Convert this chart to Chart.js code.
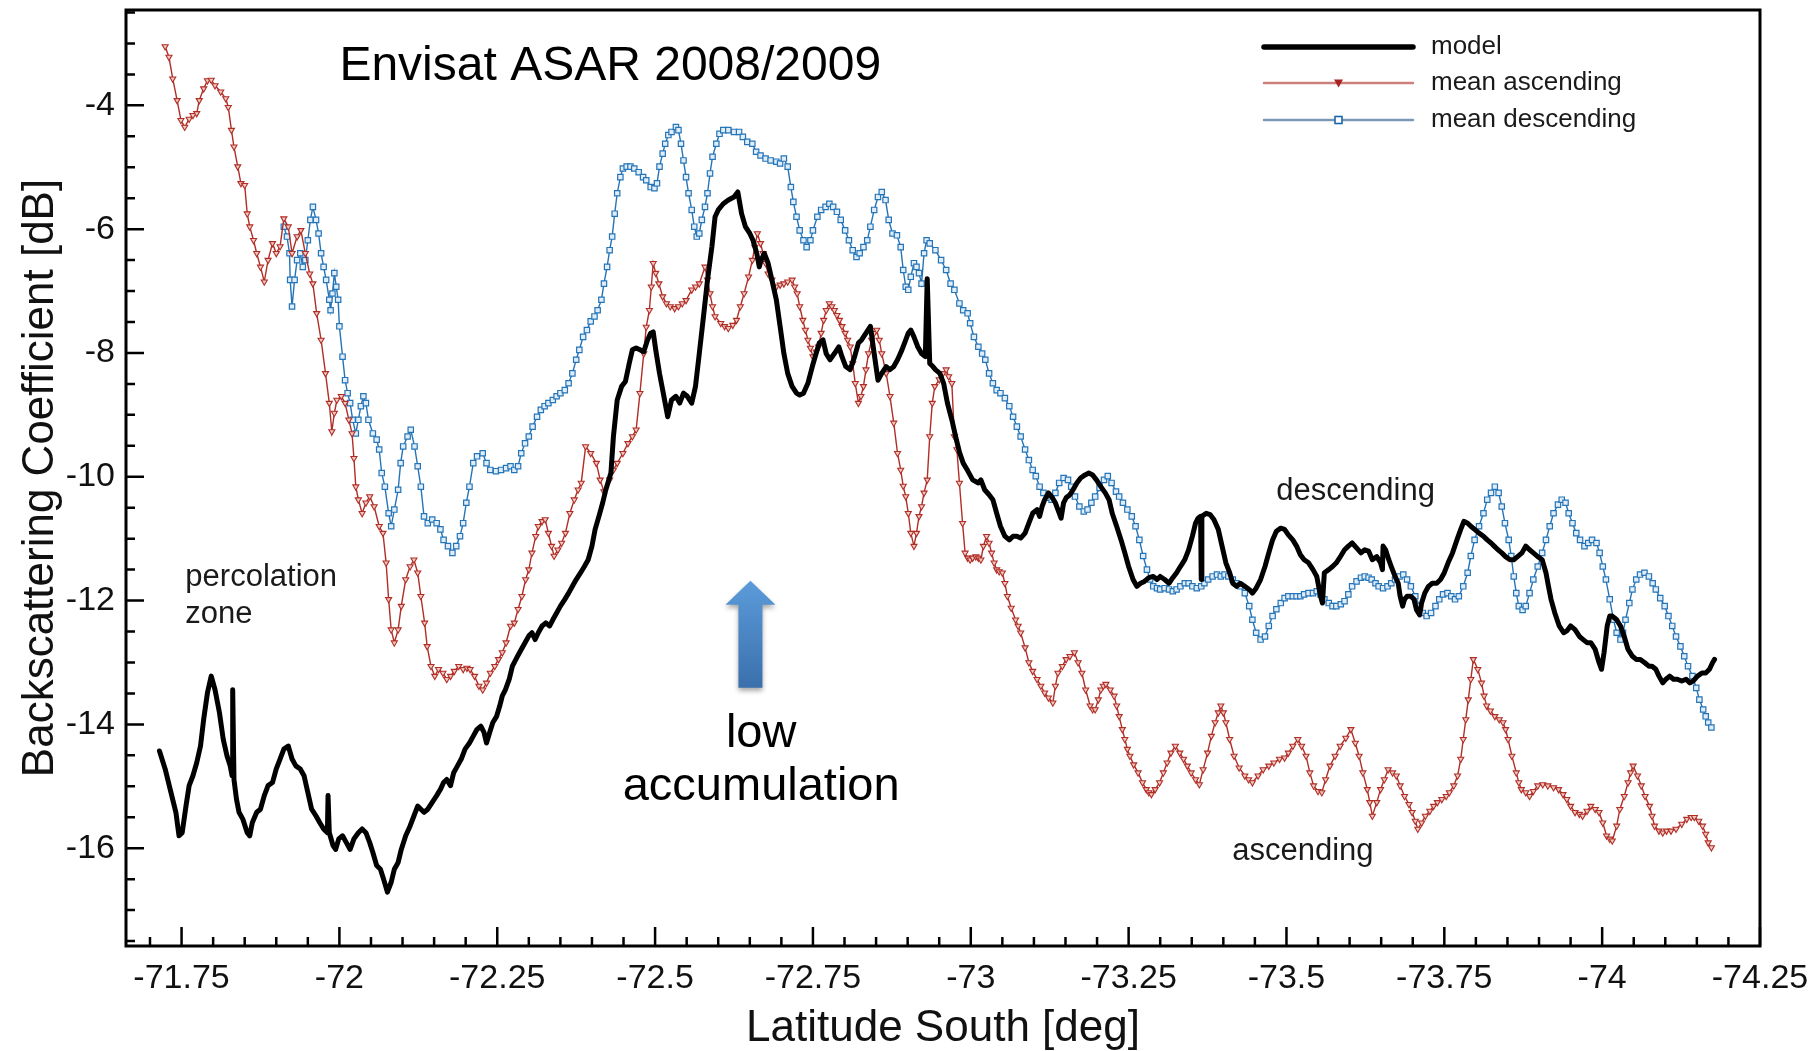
<!DOCTYPE html>
<html>
<head>
<meta charset="utf-8">
<title>Envisat ASAR backscatter profile</title>
<script src="https://cdn.jsdelivr.net/npm/chart.js@4.4.1/dist/chart.umd.min.js"></script>
<style>
  html, body { margin: 0; padding: 0; background: #fff; }
  #wrap { width: 1812px; height: 1051px; }
</style>
</head>
<body>
<div id="wrap"><canvas id="profile" width="1812" height="1051"></canvas></div>
<script>
// axis ticks
const latTicks = [-71.75, -72, -72.25, -72.5, -72.75, -73, -73.25, -73.5, -73.75, -74, -74.25];
const dbTicks = [-16, -14, -12, -10, -8, -6, -4];

// model backscatter along the traverse
const modelLat = [
  -71.715, -71.724, -71.732, -71.741, -71.746, -71.751, -71.757, -71.762, -71.768, -71.774,
  -71.780, -71.785, -71.791, -71.797, -71.803, -71.810, -71.816, -71.822, -71.827, -71.830,
  -71.831, -71.833, -71.837, -71.841, -71.847, -71.854, -71.858, -71.862, -71.869, -71.875,
  -71.881, -71.887, -71.894, -71.900, -71.906, -71.912, -71.919, -71.925, -71.931, -71.938,
  -71.944, -71.950, -71.956, -71.963, -71.969, -71.975, -71.981, -71.982, -71.984, -71.990,
  -71.994, -71.999, -72.005, -72.011, -72.017, -72.023, -72.030, -72.036, -72.042, -72.048,
  -72.053, -72.059, -72.065, -72.070, -72.076, -72.082, -72.087, -72.093, -72.098, -72.105,
  -72.112, -72.118, -72.124, -72.129, -72.134, -72.140, -72.147, -72.154, -72.160, -72.165,
  -72.170, -72.176, -72.181, -72.187, -72.193, -72.199, -72.206, -72.212, -72.218, -72.224,
  -72.229, -72.233, -72.238, -72.243, -72.249, -72.254, -72.258, -72.263, -72.269, -72.274,
  -72.281, -72.288, -72.294, -72.300, -72.305, -72.310, -72.315, -72.321, -72.327, -72.333,
  -72.338, -72.344, -72.350, -72.357, -72.363, -72.369, -72.375, -72.382, -72.388, -72.394,
  -72.400, -72.405, -72.411, -72.417, -72.422, -72.430, -72.434, -72.440, -72.447, -72.453,
  -72.459, -72.464, -72.470, -72.476, -72.482, -72.488, -72.493, -72.497, -72.501, -72.507,
  -72.513, -72.520, -72.526, -72.533, -72.539, -72.545, -72.551, -72.558, -72.564, -72.570,
  -72.576, -72.583, -72.590, -72.595, -72.600, -72.608, -72.616, -72.625, -72.631, -72.637,
  -72.643, -72.650, -72.655, -72.661, -72.665, -72.668, -72.673, -72.679, -72.685, -72.692,
  -72.698, -72.704, -72.710, -72.717, -72.724, -72.729, -72.735, -72.742, -72.749, -72.755,
  -72.760, -72.766, -72.771, -72.777, -72.784, -72.791, -72.796, -72.802, -72.809, -72.816,
  -72.822, -72.827, -72.834, -72.841, -72.847, -72.853, -72.859, -72.866, -72.872, -72.878,
  -72.884, -72.891, -72.897, -72.901, -72.905, -72.910, -72.916, -72.922, -72.928, -72.931,
  -72.935, -72.940, -72.944, -72.951, -72.957, -72.963, -72.970, -72.976, -72.982, -72.988,
  -72.995, -73.003, -73.012, -73.016, -73.022, -73.029, -73.035, -73.041, -73.047, -73.054,
  -73.061, -73.067, -73.073, -73.079, -73.086, -73.092, -73.098, -73.105, -73.109, -73.113,
  -73.117, -73.123, -73.128, -73.134, -73.138, -73.143, -73.147, -73.151, -73.157, -73.162,
  -73.168, -73.174, -73.181, -73.187, -73.193, -73.199, -73.206, -73.213, -73.219, -73.224,
  -73.231, -73.238, -73.244, -73.250, -73.257, -73.263, -73.269, -73.275, -73.282, -73.289,
  -73.295, -73.300, -73.307, -73.314, -73.320, -73.326, -73.332, -73.339, -73.345, -73.351,
  -73.356, -73.360, -73.364, -73.365, -73.366, -73.373, -73.379, -73.385, -73.392, -73.398,
  -73.404, -73.410, -73.415, -73.421, -73.427, -73.434, -73.441, -73.446, -73.452, -73.459,
  -73.466, -73.472, -73.478, -73.484, -73.491, -73.497, -73.503, -73.510, -73.516, -73.522,
  -73.528, -73.535, -73.542, -73.548, -73.554, -73.557, -73.560, -73.567, -73.573, -73.579,
  -73.586, -73.592, -73.598, -73.604, -73.611, -73.618, -73.624, -73.630, -73.636, -73.643,
  -73.649, -73.652, -73.653, -73.657, -73.662, -73.666, -73.672, -73.677, -73.680, -73.684,
  -73.687, -73.691, -73.697, -73.702, -73.706, -73.711, -73.714, -73.719, -73.725, -73.731,
  -73.738, -73.744, -73.750, -73.756, -73.763, -73.770, -73.776, -73.781, -73.787, -73.792,
  -73.798, -73.805, -73.812, -73.818, -73.824, -73.829, -73.835, -73.841, -73.847, -73.854,
  -73.860, -73.866, -73.873, -73.879, -73.885, -73.891, -73.898, -73.905, -73.911, -73.915,
  -73.919, -73.925, -73.932, -73.939, -73.944, -73.950, -73.957, -73.964, -73.970, -73.976,
  -73.982, -73.989, -73.995, -73.999, -74.003, -74.008, -74.012, -74.016, -74.023, -74.029,
  -74.035, -74.041, -74.048, -74.054, -74.060, -74.067, -74.074, -74.079, -74.085, -74.090,
  -74.096, -74.101, -74.107, -74.113, -74.119, -74.126, -74.133, -74.139, -74.144, -74.151,
  -74.158, -74.164, -74.170, -74.175, -74.178
];
const modelDb = [
  -14.43, -14.72, -15.05, -15.42, -15.80, -15.75, -15.32, -14.99, -14.83, -14.62,
  -14.35, -13.92, -13.49, -13.22, -13.44, -13.81, -14.24, -14.51, -14.67, -14.83,
  -13.44, -14.89, -15.21, -15.42, -15.53, -15.75, -15.80, -15.59, -15.42, -15.37,
  -15.15, -14.99, -14.94, -14.72, -14.56, -14.40, -14.35, -14.56, -14.67, -14.72,
  -14.83, -15.10, -15.37, -15.48, -15.59, -15.69, -15.75, -15.15, -15.75, -15.96,
  -16.02, -15.85, -15.80, -15.91, -16.02, -15.85, -15.75, -15.69, -15.75, -15.91,
  -16.07, -16.28, -16.34, -16.50, -16.71, -16.55, -16.34, -16.23, -16.02, -15.80,
  -15.64, -15.48, -15.32, -15.37, -15.42, -15.37, -15.26, -15.15, -15.05, -14.94,
  -14.89, -14.99, -14.78, -14.67, -14.56, -14.40, -14.30, -14.19, -14.08, -14.03,
  -14.13, -14.30, -14.13, -13.97, -13.87, -13.70, -13.54, -13.44, -13.27, -13.06,
  -12.92, -12.79, -12.68, -12.57, -12.52, -12.63, -12.52, -12.41, -12.36, -12.41,
  -12.31, -12.20, -12.09, -11.98, -11.88, -11.77, -11.66, -11.55, -11.45, -11.34,
  -11.12, -10.85, -10.64, -10.42, -10.21, -9.94, -9.35, -8.76, -8.54, -8.46,
  -8.17, -7.95, -7.92, -7.95, -7.98, -7.79, -7.68, -7.66, -7.95, -8.33,
  -8.65, -9.03, -8.76, -8.70, -8.81, -8.65, -8.70, -8.81, -8.54, -8.01,
  -7.47, -6.82, -6.28, -5.80, -5.69, -5.59, -5.53, -5.48, -5.40, -5.75,
  -5.96, -6.07, -6.18, -6.39, -6.61, -6.50, -6.39, -6.55, -6.82, -7.14,
  -7.57, -8.01, -8.33, -8.54, -8.65, -8.68, -8.65, -8.49, -8.22, -8.01,
  -7.84, -7.79, -8.01, -8.11, -8.01, -7.90, -8.06, -8.22, -8.27, -8.06,
  -7.84, -7.79, -7.68, -7.57, -8.01, -8.44, -8.33, -8.22, -8.27, -8.22,
  -8.11, -7.95, -7.79, -7.68, -7.63, -7.74, -7.90, -8.01, -8.06, -6.80,
  -8.17, -8.22, -8.27, -8.33, -8.49, -8.81, -9.08, -9.35, -9.60, -9.78,
  -9.90, -10.05, -10.10, -10.05, -10.21, -10.29, -10.37, -10.59, -10.80, -10.96,
  -11.02, -10.96, -10.96, -10.99, -10.91, -10.75, -10.59, -10.53, -10.64, -10.48,
  -10.37, -10.26, -10.32, -10.42, -10.53, -10.67, -10.42, -10.34, -10.29, -10.21,
  -10.10, -10.02, -9.97, -9.94, -9.97, -10.05, -10.16, -10.26, -10.37, -10.59,
  -10.80, -11.02, -11.23, -11.45, -11.66, -11.77, -11.72, -11.69, -11.63, -11.61,
  -11.66, -11.61, -11.66, -11.72, -11.63, -11.55, -11.45, -11.34, -11.18, -10.96,
  -10.75, -10.67, -10.64, -11.66, -10.64, -10.59, -10.61, -10.69, -10.85, -11.12,
  -11.39, -11.55, -11.72, -11.77, -11.72, -11.77, -11.82, -11.88, -11.80, -11.66,
  -11.45, -11.23, -11.02, -10.88, -10.83, -10.85, -10.94, -11.02, -11.12, -11.26,
  -11.34, -11.39, -11.50, -11.61, -11.93, -12.04, -11.55, -11.50, -11.45, -11.39,
  -11.28, -11.18, -11.12, -11.07, -11.15, -11.23, -11.18, -11.20, -11.34, -11.29,
  -11.39, -11.50, -11.12, -11.18, -11.34, -11.45, -11.61, -11.72, -11.93, -12.09,
  -11.98, -11.93, -11.93, -11.98, -12.15, -12.23, -12.04, -11.88, -11.77, -11.72,
  -11.72, -11.66, -11.55, -11.39, -11.23, -11.02, -10.85, -10.72, -10.75, -10.80,
  -10.85, -10.91, -10.96, -11.02, -11.07, -11.12, -11.18, -11.23, -11.29, -11.34,
  -11.34, -11.29, -11.23, -11.12, -11.18, -11.23, -11.29, -11.34, -11.55, -11.77,
  -11.98, -12.20, -12.41, -12.52, -12.49, -12.41, -12.47, -12.58, -12.63, -12.68,
  -12.68, -12.79, -13.00, -13.11, -12.84, -12.41, -12.25, -12.25, -12.31, -12.41,
  -12.58, -12.79, -12.90, -12.95, -12.95, -13.00, -13.06, -13.06, -13.11, -13.22,
  -13.33, -13.27, -13.22, -13.27, -13.27, -13.30, -13.27, -13.33, -13.30, -13.22,
  -13.17, -13.17, -13.11, -13.00, -12.95
];

// mean of the ascending passes
const ascLat = [
  -71.724, -71.730, -71.736, -71.743, -71.749, -71.755, -71.762, -71.768, -71.774, -71.778,
  -71.785, -71.791, -71.797, -71.803, -71.812, -71.820, -71.824, -71.829, -71.833, -71.839,
  -71.844, -71.850, -71.854, -71.858, -71.864, -71.869, -71.875, -71.881, -71.887, -71.894,
  -71.900, -71.906, -71.912, -71.919, -71.925, -71.933, -71.939, -71.946, -71.953, -71.958,
  -71.964, -71.971, -71.978, -71.984, -71.988, -71.992, -71.996, -72.003, -72.009, -72.015,
  -72.020, -72.023, -72.026, -72.030, -72.036, -72.042, -72.048, -72.055, -72.063, -72.069,
  -72.074, -72.078, -72.082, -72.087, -72.093, -72.098, -72.105, -72.112, -72.118, -72.124,
  -72.129, -72.135, -72.139, -72.145, -72.151, -72.157, -72.164, -72.170, -72.176, -72.182,
  -72.189, -72.196, -72.202, -72.207, -72.214, -72.221, -72.227, -72.233, -72.239, -72.246,
  -72.252, -72.258, -72.264, -72.271, -72.277, -72.283, -72.289, -72.295, -72.300, -72.305,
  -72.311, -72.315, -72.321, -72.326, -72.331, -72.336, -72.340, -72.346, -72.352, -72.358,
  -72.365, -72.372, -72.378, -72.383, -72.390, -72.398, -72.407, -72.413, -72.419, -72.428,
  -72.434, -72.440, -72.449, -72.457, -72.464, -72.470, -72.476, -72.482, -72.486, -72.491,
  -72.494, -72.497, -72.501, -72.506, -72.512, -72.518, -72.524, -72.531, -72.537, -72.543,
  -72.549, -72.558, -72.564, -72.570, -72.579, -72.583, -72.587, -72.591, -72.595, -72.604,
  -72.610, -72.616, -72.623, -72.629, -72.635, -72.641, -72.648, -72.654, -72.658, -72.662,
  -72.667, -72.671, -72.675, -72.679, -72.685, -72.692, -72.698, -72.704, -72.710, -72.717,
  -72.721, -72.725, -72.729, -72.734, -72.738, -72.742, -72.746, -72.750, -72.755, -72.759,
  -72.763, -72.767, -72.771, -72.776, -72.780, -72.784, -72.788, -72.792, -72.796, -72.801,
  -72.805, -72.809, -72.813, -72.817, -72.822, -72.826, -72.830, -72.834, -72.838, -72.843,
  -72.847, -72.851, -72.855, -72.859, -72.866, -72.872, -72.878, -72.884, -72.889, -72.893,
  -72.897, -72.901, -72.905, -72.910, -72.914, -72.918, -72.922, -72.926, -72.931, -72.935,
  -72.939, -72.943, -72.950, -72.956, -72.961, -72.965, -72.970, -72.974, -72.978, -72.982,
  -72.987, -72.991, -72.995, -72.999, -73.003, -73.008, -73.012, -73.016, -73.020, -73.025,
  -73.029, -73.033, -73.037, -73.041, -73.045, -73.050, -73.054, -73.058, -73.064, -73.071,
  -73.075, -73.079, -73.086, -73.092, -73.098, -73.105, -73.111, -73.117, -73.123, -73.130,
  -73.134, -73.138, -73.145, -73.151, -73.157, -73.164, -73.170, -73.176, -73.182, -73.189,
  -73.193, -73.197, -73.202, -73.206, -73.210, -73.214, -73.221, -73.227, -73.231, -73.235,
  -73.240, -73.244, -73.248, -73.252, -73.258, -73.265, -73.272, -73.278, -73.282, -73.286,
  -73.292, -73.299, -73.305, -73.311, -73.317, -73.324, -73.331, -73.337, -73.343, -73.349,
  -73.356, -73.362, -73.368, -73.375, -73.381, -73.387, -73.392, -73.396, -73.400, -73.404,
  -73.410, -73.417, -73.425, -73.434, -73.440, -73.446, -73.455, -73.463, -73.472, -73.480,
  -73.489, -73.497, -73.503, -73.510, -73.518, -73.524, -73.531, -73.537, -73.543, -73.550,
  -73.556, -73.562, -73.569, -73.577, -73.585, -73.594, -73.602, -73.609, -73.615, -73.621,
  -73.628, -73.632, -73.636, -73.643, -73.649, -73.655, -73.661, -73.668, -73.674, -73.680,
  -73.687, -73.694, -73.699, -73.704, -73.708, -73.714, -73.720, -73.727, -73.733, -73.739,
  -73.746, -73.753, -73.758, -73.765, -73.771, -73.776, -73.780, -73.784, -73.788, -73.792,
  -73.796, -73.803, -73.809, -73.813, -73.817, -73.823, -73.830, -73.837, -73.843, -73.847,
  -73.851, -73.857, -73.864, -73.868, -73.872, -73.879, -73.885, -73.891, -73.898, -73.906,
  -73.914, -73.923, -73.931, -73.938, -73.944, -73.950, -73.957, -73.964, -73.969, -73.976,
  -73.982, -73.989, -73.995, -74.001, -74.007, -74.012, -74.016, -74.023, -74.028, -74.035,
  -74.041, -74.045, -74.049, -74.056, -74.062, -74.068, -74.075, -74.079, -74.083, -74.090,
  -74.096, -74.102, -74.109, -74.117, -74.126, -74.134, -74.141, -74.146, -74.153, -74.159,
  -74.164, -74.168, -74.173
];
const ascDb = [
  -3.05, -3.22, -3.57, -3.92, -4.24, -4.35, -4.22, -4.16, -4.13, -3.92,
  -3.73, -3.60, -3.59, -3.68, -3.78, -3.89, -4.03, -4.40, -4.67, -4.99,
  -5.26, -5.29, -5.75, -5.96, -6.18, -6.39, -6.61, -6.85, -6.50, -6.23,
  -6.39, -6.28, -5.83, -5.96, -6.39, -6.12, -6.02, -6.39, -6.72, -6.88,
  -7.36, -7.79, -8.33, -8.81, -9.27, -8.97, -8.76, -8.70, -8.81, -9.08,
  -9.30, -9.70, -10.16, -10.37, -10.59, -10.42, -10.32, -10.48, -10.80, -10.91,
  -11.39, -11.98, -12.47, -12.68, -12.47, -12.09, -11.66, -11.45, -11.34, -11.55,
  -11.93, -12.36, -12.74, -13.06, -13.22, -13.11, -13.17, -13.27, -13.22, -13.14,
  -13.06, -13.11, -13.09, -13.11, -13.22, -13.38, -13.44, -13.33, -13.17, -13.06,
  -12.95, -12.84, -12.68, -12.41, -12.36, -12.14, -11.93, -11.66, -11.50, -11.23,
  -10.96, -10.80, -10.72, -10.69, -10.91, -11.12, -11.28, -11.18, -11.07, -10.91,
  -10.59, -10.37, -10.21, -10.10, -9.51, -9.62, -9.78, -10.05, -10.24, -10.05,
  -9.89, -9.78, -9.62, -9.46, -9.35, -9.24, -8.65, -8.01, -7.58, -7.31,
  -6.93, -6.55, -6.71, -6.88, -7.09, -7.20, -7.25, -7.28, -7.25, -7.20,
  -7.15, -6.98, -6.93, -6.88, -6.61, -6.82, -7.04, -7.25, -7.41, -7.52,
  -7.57, -7.60, -7.55, -7.47, -7.25, -7.04, -6.77, -6.50, -6.29, -6.07,
  -6.23, -6.39, -6.55, -6.72, -6.82, -6.93, -6.90, -6.88, -6.85, -6.82,
  -6.93, -7.04, -7.25, -7.47, -7.63, -7.79, -7.92, -8.06, -7.98, -7.90,
  -7.68, -7.47, -7.31, -7.20, -7.25, -7.31, -7.39, -7.47, -7.57, -7.68,
  -7.79, -7.90, -8.17, -8.49, -8.81, -8.70, -8.54, -8.27, -8.01, -7.79,
  -7.68, -7.63, -7.79, -8.01, -8.33, -8.70, -9.13, -9.62, -9.89, -10.15,
  -10.32, -10.59, -10.91, -11.12, -10.91, -10.64, -10.48, -10.26, -10.05, -9.35,
  -8.81, -8.54, -8.43, -8.33, -8.27, -8.38, -8.49, -9.35, -9.56, -10.10,
  -10.75, -11.23, -11.31, -11.34, -11.31, -11.29, -11.31, -11.34, -11.12, -10.96,
  -11.07, -11.23, -11.39, -11.50, -11.53, -11.55, -11.72, -11.93, -12.12, -12.31,
  -12.41, -12.52, -12.76, -13.00, -13.14, -13.27, -13.38, -13.49, -13.57, -13.65,
  -13.38, -13.17, -13.06, -12.95, -12.90, -12.84, -13.00, -13.17, -13.44, -13.70,
  -13.76, -13.76, -13.60, -13.44, -13.38, -13.35, -13.44, -13.54, -13.70, -13.87,
  -14.08, -14.24, -14.40, -14.51, -14.65, -14.78, -14.94, -15.05, -15.10, -15.13,
  -15.05, -14.94, -14.78, -14.62, -14.46, -14.35, -14.46, -14.56, -14.67, -14.78,
  -14.89, -14.97, -14.73, -14.46, -14.19, -13.97, -13.81, -13.70, -13.81, -13.97,
  -14.24, -14.51, -14.70, -14.83, -14.89, -14.94, -14.83, -14.73, -14.67, -14.62,
  -14.56, -14.54, -14.46, -14.35, -14.24, -14.35, -14.51, -14.78, -14.99, -15.08,
  -15.10, -14.89, -14.67, -14.51, -14.35, -14.22, -14.08, -14.30, -14.51, -14.78,
  -15.05, -15.26, -15.48, -15.26, -15.05, -14.89, -14.73, -14.78, -14.83, -14.99,
  -15.16, -15.29, -15.42, -15.56, -15.69, -15.59, -15.48, -15.40, -15.32, -15.26,
  -15.21, -15.16, -15.10, -14.99, -14.83, -14.56, -14.24, -13.92, -13.60, -13.27,
  -12.95, -13.11, -13.33, -13.54, -13.70, -13.78, -13.87, -13.92, -13.97, -14.08,
  -14.24, -14.51, -14.78, -14.94, -15.05, -15.10, -15.16, -15.08, -14.99, -14.97,
  -14.99, -15.02, -15.05, -15.13, -15.21, -15.32, -15.42, -15.45, -15.48, -15.40,
  -15.32, -15.37, -15.42, -15.59, -15.80, -15.85, -15.88, -15.64, -15.37, -15.16,
  -14.94, -14.78, -14.67, -14.83, -14.99, -15.16, -15.32, -15.48, -15.64, -15.72,
  -15.75, -15.72, -15.72, -15.69, -15.61, -15.53, -15.50, -15.50, -15.56, -15.64,
  -15.77, -15.91, -15.99
];

// mean of the descending passes
const descLat = [
  -71.912, -71.917, -71.921, -71.922, -71.925, -71.929, -71.933, -71.938, -71.942, -71.946,
  -71.950, -71.954, -71.958, -71.963, -71.967, -71.971, -71.975, -71.979, -71.984, -71.986,
  -71.989, -71.992, -71.995, -71.998, -72.000, -72.005, -72.009, -72.013, -72.017, -72.021,
  -72.026, -72.030, -72.034, -72.038, -72.042, -72.046, -72.053, -72.059, -72.063, -72.067,
  -72.072, -72.078, -72.082, -72.087, -72.093, -72.097, -72.101, -72.108, -72.113, -72.119,
  -72.124, -72.129, -72.134, -72.140, -72.147, -72.154, -72.160, -72.165, -72.172, -72.179,
  -72.185, -72.191, -72.196, -72.201, -72.206, -72.212, -72.218, -72.227, -72.233, -72.239,
  -72.248, -72.256, -72.264, -72.271, -72.277, -72.283, -72.288, -72.294, -72.300, -72.306,
  -72.313, -72.319, -72.325, -72.331, -72.338, -72.344, -72.350, -72.357, -72.363, -72.369,
  -72.375, -72.380, -72.386, -72.392, -72.398, -72.404, -72.409, -72.415, -72.419, -72.424,
  -72.428, -72.432, -72.436, -72.440, -72.445, -72.449, -72.455, -72.461, -72.467, -72.474,
  -72.481, -72.486, -72.493, -72.499, -72.503, -72.507, -72.512, -72.516, -72.521, -72.526,
  -72.533, -72.537, -72.541, -72.545, -72.549, -72.553, -72.558, -72.562, -72.566, -72.570,
  -72.574, -72.579, -72.583, -72.587, -72.591, -72.597, -72.602, -72.608, -72.616, -72.625,
  -72.633, -72.639, -72.646, -72.654, -72.660, -72.667, -72.675, -72.683, -72.692, -72.698,
  -72.704, -72.710, -72.715, -72.719, -72.724, -72.729, -72.735, -72.740, -72.746, -72.750,
  -72.757, -72.763, -72.770, -72.776, -72.782, -72.788, -72.794, -72.801, -72.807, -72.813,
  -72.819, -72.824, -72.830, -72.836, -72.841, -72.847, -72.853, -72.859, -72.865, -72.870,
  -72.876, -72.883, -72.889, -72.893, -72.897, -72.901, -72.905, -72.910, -72.914, -72.918,
  -72.922, -72.926, -72.930, -72.935, -72.944, -72.953, -72.961, -72.968, -72.974, -72.982,
  -72.988, -72.995, -72.999, -73.005, -73.012, -73.018, -73.023, -73.029, -73.035, -73.041,
  -73.047, -73.054, -73.061, -73.067, -73.073, -73.079, -73.086, -73.092, -73.098, -73.103,
  -73.109, -73.115, -73.121, -73.128, -73.134, -73.140, -73.147, -73.154, -73.159, -73.165,
  -73.172, -73.179, -73.185, -73.191, -73.197, -73.204, -73.211, -73.217, -73.223, -73.230,
  -73.235, -73.241, -73.248, -73.255, -73.261, -73.267, -73.273, -73.279, -73.284, -73.289,
  -73.295, -73.300, -73.307, -73.314, -73.320, -73.326, -73.332, -73.339, -73.345, -73.351,
  -73.358, -73.365, -73.370, -73.376, -73.383, -73.390, -73.396, -73.402, -73.408, -73.415,
  -73.421, -73.427, -73.434, -73.441, -73.446, -73.452, -73.459, -73.466, -73.472, -73.478,
  -73.484, -73.491, -73.497, -73.503, -73.510, -73.516, -73.522, -73.528, -73.535, -73.542,
  -73.548, -73.554, -73.560, -73.567, -73.573, -73.579, -73.586, -73.592, -73.598, -73.604,
  -73.611, -73.618, -73.624, -73.630, -73.635, -73.641, -73.646, -73.653, -73.660, -73.666,
  -73.672, -73.679, -73.685, -73.691, -73.697, -73.704, -73.711, -73.716, -73.722, -73.729,
  -73.736, -73.742, -73.748, -73.755, -73.761, -73.767, -73.773, -73.780, -73.787, -73.792,
  -73.798, -73.805, -73.812, -73.818, -73.824, -73.830, -73.836, -73.841, -73.846, -73.852,
  -73.856, -73.860, -73.864, -73.868, -73.874, -73.879, -73.885, -73.891, -73.898, -73.905,
  -73.911, -73.917, -73.923, -73.930, -73.936, -73.942, -73.947, -73.953, -73.959, -73.965,
  -73.972, -73.978, -73.984, -73.991, -73.996, -74.001, -74.006, -74.012, -74.018, -74.023,
  -74.029, -74.033, -74.037, -74.043, -74.048, -74.054, -74.060, -74.067, -74.074, -74.080,
  -74.085, -74.092, -74.099, -74.105, -74.111, -74.117, -74.124, -74.130, -74.136, -74.143,
  -74.149, -74.154, -74.160, -74.164, -74.168, -74.173
];
const descDb = [
  -5.96, -6.12, -6.39, -6.82, -7.25, -6.82, -6.50, -6.39, -6.61, -6.50,
  -6.18, -5.85, -5.64, -5.85, -6.07, -6.39, -6.61, -6.82, -7.14, -7.31,
  -7.04, -6.71, -6.93, -7.14, -7.57, -8.06, -8.44, -8.65, -8.81, -9.08,
  -9.30, -9.08, -8.86, -8.70, -8.81, -9.08, -9.30, -9.40, -9.56, -9.94,
  -10.16, -10.59, -10.80, -10.53, -10.21, -9.78, -9.51, -9.35, -9.24, -9.51,
  -9.83, -10.16, -10.64, -10.75, -10.69, -10.75, -10.85, -11.02, -11.12, -11.23,
  -11.12, -10.96, -10.75, -10.42, -10.16, -9.78, -9.67, -9.62, -9.78, -9.89,
  -9.91, -9.89, -9.86, -9.83, -9.89, -9.83, -9.62, -9.46, -9.35, -9.19,
  -9.03, -8.92, -8.86, -8.81, -8.76, -8.70, -8.65, -8.60, -8.49, -8.33,
  -8.11, -7.95, -7.74, -7.63, -7.49, -7.41, -7.31, -7.14, -6.88, -6.61,
  -6.34, -6.12, -5.75, -5.42, -5.16, -5.02, -4.99, -4.99, -5.02, -5.08,
  -5.16, -5.21, -5.32, -5.34, -5.26, -4.99, -4.78, -4.62, -4.48, -4.43,
  -4.35, -4.40, -4.62, -4.89, -5.16, -5.42, -5.69, -5.96, -6.12, -6.07,
  -5.85, -5.64, -5.42, -5.10, -4.83, -4.62, -4.46, -4.40, -4.40, -4.43,
  -4.43, -4.51, -4.59, -4.62, -4.75, -4.81, -4.86, -4.89, -4.91, -4.94,
  -4.86, -4.99, -5.32, -5.56, -5.80, -6.02, -6.18, -6.29, -6.18, -6.02,
  -5.80, -5.69, -5.64, -5.59, -5.64, -5.72, -5.85, -6.02, -6.18, -6.34,
  -6.45, -6.39, -6.29, -6.18, -5.96, -5.69, -5.48, -5.40, -5.53, -5.85,
  -6.07, -6.10, -6.29, -6.66, -6.93, -6.98, -6.77, -6.55, -6.61, -6.71,
  -6.88, -6.39, -6.18, -6.23, -6.34, -6.50, -6.66, -6.88, -6.98, -7.20,
  -7.31, -7.36, -7.52, -7.74, -7.90, -8.01, -8.11, -8.33, -8.49, -8.60,
  -8.65, -8.73, -8.86, -9.03, -9.19, -9.35, -9.56, -9.73, -9.89, -9.99,
  -10.16, -10.26, -10.34, -10.37, -10.26, -10.10, -10.02, -10.05, -10.16, -10.32,
  -10.48, -10.56, -10.53, -10.42, -10.32, -10.18, -10.05, -9.99, -10.10, -10.24,
  -10.32, -10.42, -10.53, -10.64, -10.80, -11.02, -11.28, -11.50, -11.66, -11.77,
  -11.80, -11.82, -11.80, -11.82, -11.85, -11.82, -11.77, -11.72, -11.72, -11.77,
  -11.80, -11.77, -11.72, -11.66, -11.61, -11.58, -11.61, -11.58, -11.61, -11.66,
  -11.72, -11.77, -11.88, -12.09, -12.31, -12.52, -12.63, -12.58, -12.41, -12.25,
  -12.14, -12.04, -11.96, -11.93, -11.93, -11.93, -11.93, -11.90, -11.88, -11.88,
  -11.85, -11.90, -11.98, -12.04, -12.09, -12.09, -12.06, -12.01, -11.90, -11.77,
  -11.69, -11.63, -11.61, -11.63, -11.66, -11.72, -11.77, -11.80, -11.77, -11.72,
  -11.66, -11.61, -11.58, -11.66, -11.77, -11.93, -12.09, -12.20, -12.25, -12.20,
  -12.09, -11.98, -11.90, -11.88, -11.93, -11.98, -11.93, -11.77, -11.55, -11.28,
  -11.02, -10.80, -10.59, -10.37, -10.26, -10.16, -10.26, -10.48, -10.75, -11.02,
  -11.28, -11.61, -11.88, -12.09, -12.15, -12.09, -11.88, -11.66, -11.45, -11.23,
  -11.02, -10.80, -10.59, -10.45, -10.37, -10.42, -10.59, -10.75, -10.91, -11.02,
  -11.12, -11.07, -11.02, -11.07, -11.23, -11.45, -11.66, -11.98, -12.31, -12.52,
  -12.63, -12.52, -12.31, -12.04, -11.82, -11.66, -11.58, -11.55, -11.61, -11.72,
  -11.82, -11.96, -12.09, -12.25, -12.41, -12.58, -12.74, -12.90, -13.06, -13.22,
  -13.41, -13.60, -13.76, -13.87, -13.97, -14.05
];

const FONT = '"Liberation Sans", Arial, Helvetica, sans-serif';
Chart.defaults.font.family = FONT;
Chart.defaults.color = '#111';

const toPoints = (lat, db) => lat.map((v, i) => ({ x: v, y: db[i] }));

const modelColor = '#000000';
const ascColor = 'rgb(176, 46, 38)';
const descColor = 'rgb(36, 116, 184)';

// frame with inward major/minor ticks, like the original plot
const frame = {
  id: 'frame',
  afterDatasetsDraw(chart) {
    const { ctx, chartArea: a, scales: { x, y } } = chart;
    ctx.save();
    ctx.strokeStyle = '#000';
    ctx.lineWidth = 2.5;
    ctx.beginPath();
    for (let i = 0; ; i++) {
      const v = -74.25 + i * 0.05;
      if (v > x.max + 1e-9) break;
      const px = x.getPixelForValue(v);
      ctx.moveTo(px, a.bottom);
      ctx.lineTo(px, a.bottom - (i % 5 === 0 ? 19 : 9));
    }
    for (let i = 0; ; i++) {
      const v = -17.5 + i * 0.5;
      if (v > y.max + 1e-9) break;
      const py = y.getPixelForValue(v);
      ctx.moveTo(a.left, py);
      ctx.lineTo(a.left + (i % 4 === 3 ? 18 : 9), py);
    }
    ctx.stroke();
    ctx.lineWidth = 3;
    ctx.strokeRect(a.left, a.top, a.right - a.left, a.bottom - a.top);
    ctx.restore();
  }
};

// legend, labels and the arrow
const notes = {
  id: 'notes',
  afterDraw(chart) {
    const { ctx, scales: { x, y } } = chart;
    ctx.save();

    // legend
    const lx0 = 1264, lx1 = 1413, tx = 1431;
    const rows = [
      { y: 47, label: 'model', color: '#000', width: 5.5, marker: null },
      { y: 83, label: 'mean ascending', color: 'rgb(204, 128, 124)', width: 2.5, marker: 'tri' },
      { y: 120, label: 'mean descending', color: 'rgb(122, 152, 184)', width: 2.5, marker: 'sq' }
    ];
    ctx.lineCap = 'round';
    rows.forEach(r => {
      ctx.strokeStyle = r.color;
      ctx.lineWidth = r.width;
      ctx.beginPath();
      ctx.moveTo(lx0, r.y);
      ctx.lineTo(lx1, r.y);
      ctx.stroke();
      const mx = (lx0 + lx1) / 2;
      if (r.marker === 'tri') {
        ctx.fillStyle = 'rgb(170, 35, 35)';
        ctx.beginPath();
        ctx.moveTo(mx - 4.5, r.y - 3.5);
        ctx.lineTo(mx + 4.5, r.y - 3.5);
        ctx.lineTo(mx, r.y + 4.5);
        ctx.closePath();
        ctx.fill();
      } else if (r.marker === 'sq') {
        ctx.fillStyle = '#fff';
        ctx.strokeStyle = 'rgb(30, 100, 170)';
        ctx.lineWidth = 1.6;
        ctx.fillRect(mx - 3.5, r.y - 3.5, 7, 7);
        ctx.strokeRect(mx - 3.5, r.y - 3.5, 7, 7);
      }
      ctx.fillStyle = '#1a1a1a';
      ctx.font = '26px ' + FONT;
      ctx.textAlign = 'left';
      ctx.textBaseline = 'middle';
      ctx.fillText(r.label, tx, r.y);
    });

    const X = v => x.getPixelForValue(v);
    const Y = v => y.getPixelForValue(v);

    ctx.textBaseline = 'alphabetic';
    ctx.fillStyle = '#000';
    ctx.textAlign = 'left';
    ctx.font = '48px ' + FONT;
    ctx.fillText('Envisat ASAR 2008/2009', X(-72.0), Y(-3.59));

    ctx.fillStyle = '#1a1a1a';
    ctx.font = '31px ' + FONT;
    ctx.fillText('percolation', X(-71.756), Y(-11.76));
    ctx.fillText('zone', X(-71.756), Y(-12.36));
    ctx.fillText('descending', X(-73.484), Y(-10.38));
    ctx.fillText('ascending', X(-73.414), Y(-16.19));

    ctx.fillStyle = '#000';
    ctx.textAlign = 'center';
    ctx.font = '47px ' + FONT;
    ctx.fillText('low', X(-72.668), Y(-14.37));
    ctx.fillText('accumulation', X(-72.668), Y(-15.22));

    // arrow pointing at the low accumulation zone
    const ax = X(-72.651), tip = Y(-11.68), base = Y(-13.41);
    const headH = 24, headW = 25, shaftW = 12;
    const grad = ctx.createLinearGradient(0, tip, 0, base);
    grad.addColorStop(0, 'rgb(92, 155, 218)');
    grad.addColorStop(1, 'rgb(58, 112, 172)');
    ctx.shadowColor = 'rgba(0, 0, 0, 0.35)';
    ctx.shadowBlur = 5;
    ctx.shadowOffsetY = 3;
    ctx.fillStyle = grad;
    ctx.beginPath();
    ctx.moveTo(ax, tip);
    ctx.lineTo(ax + headW, tip + headH);
    ctx.lineTo(ax + shaftW, tip + headH);
    ctx.lineTo(ax + shaftW, base);
    ctx.lineTo(ax - shaftW, base);
    ctx.lineTo(ax - shaftW, tip + headH);
    ctx.lineTo(ax - headW, tip + headH);
    ctx.closePath();
    ctx.fill();
    ctx.restore();
  }
};

new Chart(document.getElementById('profile'), {
  type: 'line',
  data: {
    datasets: [
      {
        label: 'model',
        data: toPoints(modelLat, modelDb),
        borderColor: modelColor,
        borderWidth: 5,
        borderJoinStyle: 'round',
        borderCapStyle: 'round',
        pointRadius: 0,
        tension: 0
      },
      {
        label: 'mean ascending',
        data: toPoints(ascLat, ascDb),
        borderColor: ascColor,
        borderWidth: 1.4,
        pointStyle: 'triangle',
        pointRotation: 180,
        pointRadius: 3.5,
        pointBorderWidth: 1.1,
        pointBorderColor: ascColor,
        pointBackgroundColor: 'rgb(240, 200, 194)',
        tension: 0
      },
      {
        label: 'mean descending',
        data: toPoints(descLat, descDb),
        borderColor: descColor,
        borderWidth: 1.4,
        pointStyle: 'rect',
        pointRadius: 3.8,
        pointBorderWidth: 1.2,
        pointBorderColor: descColor,
        pointBackgroundColor: 'rgb(225, 238, 250)',
        tension: 0
      }
    ]
  },
  options: {
    responsive: false,
    animation: false,
    events: [],
    layout: { padding: { top: 10, right: 52, left: 0, bottom: 0 } },
    plugins: {
      legend: { display: false },
      tooltip: { enabled: false }
    },
    scales: {
      x: {
        type: 'linear',
        reverse: true,
        min: -74.25,
        max: -71.662,
        afterBuildTicks: s => { s.ticks = [...latTicks].sort((a, b) => a - b).map(v => ({ value: v })); },
        afterFit: s => { s.height = 105; s.paddingLeft = 0; s.paddingRight = 0; },
        grid: { display: false, drawTicks: false },
        border: { display: false },
        ticks: {
          autoSkip: false,
          maxRotation: 0,
          padding: 12,
          color: '#111',
          font: { size: 34 },
          callback: v => String(v)
        },
        title: {
          display: true,
          text: 'Latitude South [deg]',
          color: '#111',
          font: { size: 44, lineHeight: 1 },
          padding: { top: 0, bottom: 0 }
        }
      },
      y: {
        type: 'linear',
        min: -17.58,
        max: -2.46,
        afterBuildTicks: s => { s.ticks = [...dbTicks].sort((a, b) => a - b).map(v => ({ value: v })); },
        afterFit: s => { s.width = 126; s.paddingTop = 0; s.paddingBottom = 0; },
        grid: { display: false, drawTicks: false },
        border: { display: false },
        ticks: {
          autoSkip: false,
          padding: 11,
          color: '#111',
          font: { size: 34 },
          callback: v => String(v)
        },
        title: {
          display: true,
          text: 'Backscattering Coefficient [dB]',
          color: '#111',
          font: { size: 44, lineHeight: 1 },
          padding: { top: 19, bottom: 0 }
        }
      }
    }
  },
  plugins: [frame, notes]
});
</script>
</body>
</html>
